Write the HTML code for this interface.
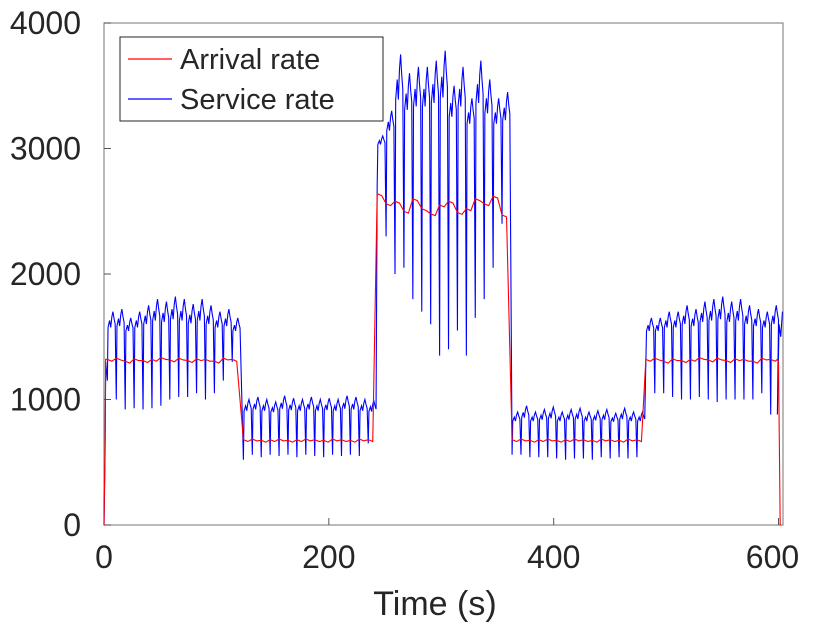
<!DOCTYPE html>
<html><head><meta charset="utf-8"><style>
body{margin:0;background:#fff}
svg text{font-family:"Liberation Sans",sans-serif;fill:#262626}
</style></head><body>
<svg id="c" width="814" height="630"></svg>
<script>
const segStart=[3,124,243,363,482];
const segBase=[1420,800,2950,740,1420];
const segArrival=[1320,680,2520,680,1320];
const peaks=[
[1700,1720,1650,1700,1750,1800,1780,1820,1800,1760,1800,1750,1700,1720,1650],
[1000,1020,1000,980,1030,1010,1000,1020,1000,1010,1000,1030,1020,1000,990],
[3100,3300,3750,3600,3650,3650,3700,3780,3500,3650,3400,3700,3550,3400,3450],
[900,950,900,920,940,900,920,930,900,910,920,890,930,900,900],
[1650,1650,1700,1700,1750,1720,1780,1800,1820,1780,1800,1750,1720,1700,1750]];
const dips=[
[1150,1000,920,930,920,930,950,1000,1020,1020,1050,1000,1050,1150,1300],
[520,560,540,560,550,560,540,560,550,540,560,550,560,550,650],
[2700,2300,2000,2050,1800,1700,1600,1350,1400,1550,1350,1650,1800,2050,2400],
[560,560,540,540,540,530,520,530,530,520,540,530,540,530,540],
[1300,1050,1050,1020,1000,1000,1020,1000,980,1000,1000,1000,1000,1050,880]];
const arrivalJitter=[
[0,10,-15,5,-10,0,15,-5,10,-10,5,0,-15,10,0],
[0,5,-5,0,5,-5,0,5,0,-5,5,0,-5,5,0],
[120,40,60,-20,80,0,-40,30,60,-30,0,80,40,100,-50],
[0,5,-5,0,5,-5,0,5,0,-5,5,0,-5,5,0],
[0,10,-15,5,-10,0,15,-5,10,-10,5,0,-15,10,0]];
const xTicks=[0,200,400,600];
const yTicks=[0,1000,2000,3000,4000];
const shapeT=[0,0.6,2,3,4,5,6,7];
const shapeF=[null,0.55,0.75,0.55,0.85,1.0,0.8,0.65];

const L=104,R=783,T=23,B=525,XMAX=604,YMAX=4000;
const sx=v=>L+v/XMAX*(R-L), sy=v=>B-v/YMAX*(B-T);
const svg=document.getElementById('c'),NS='http://www.w3.org/2000/svg';
function mk(t,a){const e=document.createElementNS(NS,t);for(const k in a)e.setAttribute(k,a[k]);svg.appendChild(e);return e;}

let svc=[[0,0],[1,600],[1.5,1300]],arr=[[0,0],[1,700],[1.5,1320]];
for(let s=0;s<5;s++){
  for(let c=0;c<15;c++){
    const t0=segStart[s]+c*119/15,p=peaks[s][c],b=segBase[s];
    for(let i=0;i<shapeT.length;i++){
      const v=i===0?dips[s][c]:b+shapeF[i]*(p-b);
      svc.push([t0+shapeT[i]*119/120,v]);
    }
    const a=segArrival[s]+arrivalJitter[s][c];
    arr.push([t0,a]);arr.push([t0+4,a-15]);
  }
}
svc.push([599,880],[600.5,1600],[602,1500],[603.5,1700]);
arr.push([599,1320],[600,1300],[601.5,0],[602.5,0]);

const frame=mk('rect',{x:L,y:T,width:R-L,height:B-T,fill:'none',stroke:'#8c8c8c','stroke-width':1.2});

xTicks.forEach(v=>{const x=sx(v);
  const tk=mk('line',{x1:x,x2:x,y1:B,y2:B-7,stroke:'#555'});
  
  const tx=mk('text',{x:v===600?x-6:x,y:B+43,'font-size':32,'text-anchor':'middle'});tx.textContent=v;
  });
yTicks.forEach(v=>{const y=sy(v);
  const tk=mk('line',{x1:L,x2:L+7,y1:y,y2:y,stroke:'#555'});
  
  const tx=mk('text',{x:L-23,y:y+11,'font-size':32,'text-anchor':'end'});tx.textContent=v;
  });
const xt=mk('text',{x:435,y:615,'font-size':34,'text-anchor':'middle'});xt.textContent='Time (s)';


const ps=mk('polyline',{points:svc.map(p=>sx(p[0])+','+sy(p[1])).join(' '),fill:'none',stroke:'#0000ff','stroke-width':1.1});

const pa=mk('polyline',{points:arr.map(p=>sx(p[0])+','+sy(p[1])).join(' '),fill:'none',stroke:'#ff0000','stroke-width':1.1});


const lg=mk('rect',{x:120,y:37,width:263,height:84,fill:'#fff',stroke:'#262626','stroke-width':1});

[['Arrival rate','#ff0000',69,'legend-entry-arrival'],['Service rate','#0000ff',109,'legend-entry-service']].forEach(d=>{
  const ln=mk('line',{x1:128,x2:172,y1:d[2]-10,y2:d[2]-10,stroke:d[1],'stroke-width':1.2});
  
  const tx=mk('text',{x:180,y:d[2],'font-size':29});tx.textContent=d[0];
  });
</script></body></html>
